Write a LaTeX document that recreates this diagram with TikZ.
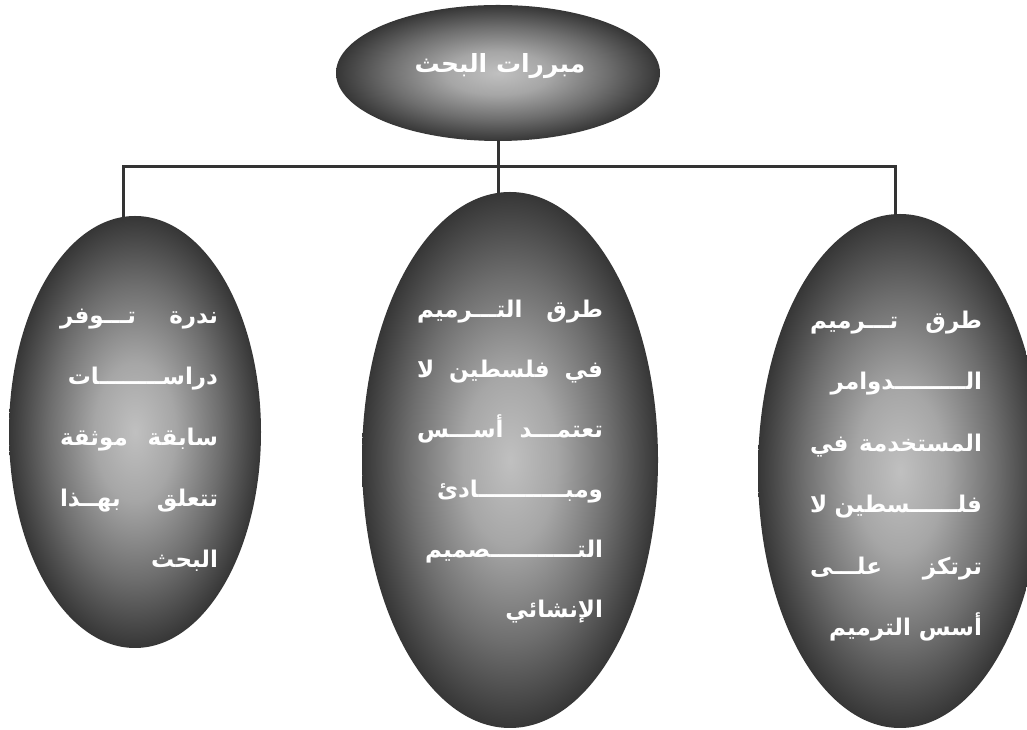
\documentclass[tikz,border=0pt]{standalone}
\usepackage{fontspec}
\newfontfamily\arabicfont[Script=Arabic]{DejaVu Sans}
\TeXXeTstate=1
\usetikzlibrary{shapes.geometric}
\definecolor{ballin}{HTML}{C0C0C0}
\definecolor{ballhi}{HTML}{A6A6A6}
\definecolor{ballmid}{HTML}{6E6E6E}
\definecolor{ballout}{HTML}{363636}
\definecolor{connc}{HTML}{333333}
\pgfdeclareradialshading{ballgray}{\pgfpoint{0bp}{0bp}}{color(0bp)=(ballin); color(8bp)=(ballhi); color(17bp)=(ballmid); color(25bp)=(ballout); color(50bp)=(ballout)}
\newdimen\txtw
\newcommand\jl[2]{\hbox to \txtw{\beginR #1\hfill #2\endR}}
\newcommand\jt[3]{\hbox to \txtw{\beginR #1\hfill #2\hfill #3\endR}}
\newcommand\rl[1]{\hbox to \txtw{\hfill\beginR #1\endR}}
\tikzset{
  oval/.style={ellipse, shade, shading=ballgray, draw=none, inner sep=0pt},
  conn/.style={draw=connc, line width=3pt, line cap=rect},
  txt/.style={text=white, inner sep=0pt, font=\arabicfont\bfseries\fontsize{23}{23}\selectfont},
  toptxt/.style={txt, font=\arabicfont\bfseries\fontsize{25}{25}\selectfont}
}
\begin{document}
\begin{tikzpicture}[x=1pt,y=1pt]
\useasboundingbox (0,0) rectangle (1027,730);
\clip (0,0) rectangle (1027,730);
\fill[white] (0,0) rectangle (1027,730);
% ellipses
\node[oval, minimum width=324pt, minimum height=136pt] (top) at (498,657) {};
\node[oval, minimum width=252pt, minimum height=432pt] (left) at (135,298) {};
\node[oval, minimum width=296pt, minimum height=536pt] (mid) at (510,270) {};
\node[oval, minimum width=284pt, minimum height=514pt] (right) at (900,259) {};
% connectors
\coordinate (hl) at (123,563);
\coordinate (hr) at (895,563);
\draw[conn] (hl |- left.north) -- (hl) -- (hr) -- (hr |- right.north);
\draw[conn] (top.south) -- (top.south |- mid.north);
% texts
\node[toptxt] (toptxt) at (500,664) {\beginR مبررات البحث\endR};
\node[txt] (lefttxt) at (139,290) {\vbox{\txtw=158pt\baselineskip=61pt\lineskiplimit=-60pt
  \jl{ندرة}{تـــوفر}
  \rl{دراســــــــات}
  \jl{سابقة}{موثقة}
  \jl{تتعلق}{بهــذا}
  \rl{البحث}}};
\node[txt] (midtxt) at (510,268) {\vbox{\txtw=186pt\baselineskip=60pt\lineskiplimit=-60pt
  \jl{طرق}{التـــرميم}
  \jt{في}{فلسطين}{لا}
  \jl{تعتمـــد}{أســـس}
  \rl{ومبـــــــــــادئ}
  \rl{التـــــــــــصميم}
  \rl{الإنشائي}}};
\node[txt] (righttxt) at (896,254) {\vbox{\txtw=172pt\baselineskip=61.4pt\lineskiplimit=-60pt
  \jl{طرق}{تـــرميم}
  \rl{الـــــــــدوامر}
  \jl{المستخدمة}{في}
  \jl{فلــــــسطين}{لا}
  \jl{ترتكز}{علـــى}
  \rl{أسس الترميم}}};
\end{tikzpicture}
\end{document}
